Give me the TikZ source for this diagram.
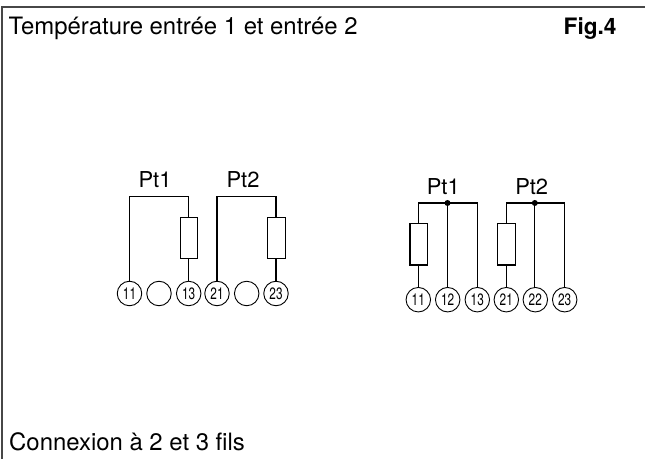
\documentclass[tikz,border=0pt]{standalone}
\usepackage{fontspec}
\setmainfont{TeX Gyre Heros}
\tikzset{
 x=1bp,y=-1bp,
 wire/.style={line width=1.3bp,black},
 frame/.style={line width=1.9bp,black!72},
 term/.style={circle,draw,line width=.9bp,minimum size=24.5bp,inner sep=0pt,font=\fontsize{16.5}{16}\selectfont\addfontfeature{FakeStretch=.72}},
 res/.style={rectangle,draw,line width=1.3bp,minimum width=17.5bp,minimum height=41.5bp,inner sep=0pt},
 jdot/.style={circle,fill=black,minimum size=6bp,inner sep=0pt},
 pt/.style={font=\fontsize{22}{22}\selectfont,inner sep=0pt},
 captext/.style={font=\fontsize{24}{24}\selectfont,inner sep=0pt,anchor=base west}
}
\begin{document}
\begin{tikzpicture}
\useasboundingbox (0,0) rectangle (645,459);
\coordinate (fa) at (2.3,459);\coordinate (fb) at (2.3,6.7);\coordinate (fc) at (645,6.7);
\draw[frame] (fa) -- (fb) -- (fc);
\node[captext] (title) at (8.5,34.3) {Température entrée 1 et entrée 2};
\node[captext,font=\fontsize{22.7}{24}\selectfont\bfseries] (fig) at (563.5,35) {Fig.4};
\node[captext] (conn) at (9,450.7) {Connexion à 2 et 3 fils};
% left
\foreach \n/\lab/\x in {a/11/129.5,b//159,c/13/188.7,d/21/217,e//246.7,f/23/276}
  \node[term] (L\n) at (\x,293.5) {\lab};
\node[res] (R1) at (189,238) {};
\node[res] (R2) at (276.4,238) {};
\coordinate (t1a) at (129.5,196.7);\coordinate (t1c) at (188.7,196.7);
\coordinate (t2a) at (217,196.7);\coordinate (t2c) at (276,196.7);
\draw[wire] (La) -- (t1a) -- (t1c) -- (t1c|-R1.north);
\draw[wire] (t1c|-R1.south) -- (Lc);
\draw[wire] (Ld) -- (t2a) -- (t2c) -- (t2c|-R2.north);
\draw[wire] (t2c|-R2.south) -- (Lf);
\node[pt] (p1) at (155,180) {Pt1};
\node[pt] (p2) at (243,180) {Pt2};
% right
\foreach \n/\lab/\x in {a/11/418.3,b/12/447.7,c/13/477.3,d/21/506.3,e/22/535.3,f/23/564.7}
  \node[term] (S\n) at (\x,299.7) {\lab};
\node[res] (R3) at (418.8,244.3) {};
\node[res] (R4) at (506.5,244.3) {};
\node[jdot] (j1) at (447.5,203) {};
\node[jdot] (j2) at (534.8,203) {};
\coordinate (u1a) at (418.3,203);\coordinate (u1c) at (477.3,203);
\coordinate (u2a) at (506.3,203);\coordinate (u2c) at (564.7,203);
\draw[wire] (Sc) -- (u1c) -- (u1a) -- (u1a|-R3.north);
\draw[wire] (u1a|-R3.south) -- (Sa);
\draw[wire] (j1) -- (j1|-Sb.north);
\draw[wire] (Sf) -- (u2c) -- (u2a) -- (u2a|-R4.north);
\draw[wire] (u2a|-R4.south) -- (Sd);
\draw[wire] (j2) -- (j2|-Se.north);
\node[pt] (p3) at (443.3,186.7) {Pt1};
\node[pt] (p4) at (531.7,186.7) {Pt2};
\end{tikzpicture}
\end{document}
